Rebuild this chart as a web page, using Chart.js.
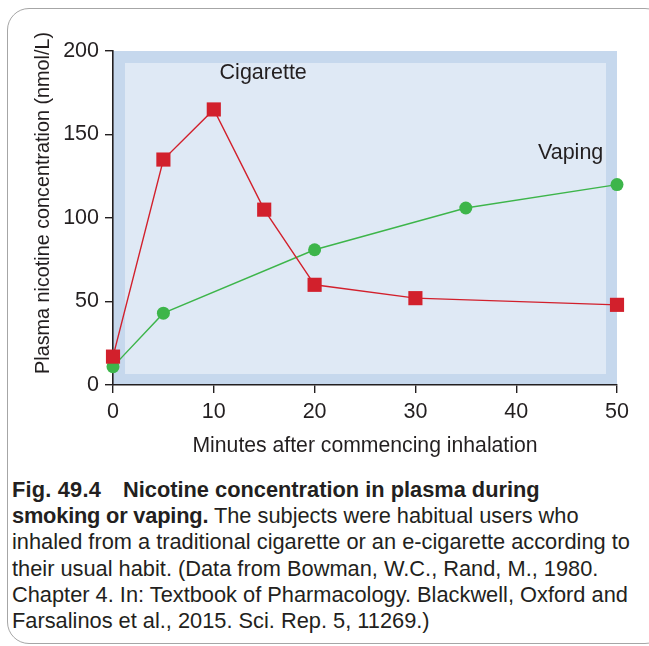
<!DOCTYPE html>
<html>
<head>
<meta charset="utf-8">
<script src="https://cdn.jsdelivr.net/npm/chart.js@4"></script>
<style>
  html, body { margin: 0; padding: 0; background: #fff; }
  body { width: 649px; height: 646px; position: relative; overflow: hidden; font-family: "Liberation Sans", Arial, sans-serif; }
  #frame { position: absolute; left: 7px; top: 8px; width: 660px; height: 636px; border: 1.5px solid #a6a6a6; border-radius: 22px; box-sizing: border-box; }
  #wrap { position: absolute; left: 0; top: 0; width: 649px; height: 470px; }
  #caption { position: absolute; left: 12px; top: 477px; font-size: 21.8px; line-height: 26.2px; color: #231f20; white-space: nowrap; }
  #caption b { font-weight: bold; letter-spacing: -0.2px; }
  #caption .linha1 { letter-spacing: 0; }
  #caption .fig { display: inline-block; width: 111px; letter-spacing: 0.2px; }
</style>
</head>
<body>
<div id="frame"></div>
<div id="wrap"><canvas id="grafico" width="649" height="470"></canvas></div>
<div id="caption">
  <b class="linha1"><span class="fig">Fig. 49.4</span>Nicotine concentration in plasma during</b><br>
  <b>smoking or vaping.</b> The subjects were habitual users who<br>
  inhaled from a traditional cigarette or an e-cigarette according to<br>
  their usual habit. (Data from Bowman, W.C., Rand, M., 1980.<br>
  Chapter 4. In: Textbook of Pharmacology. Blackwell, Oxford and<br>
  Farsalinos et al., 2015. Sci. Rep. 5, 11269.)
</div>
<script>
// minutos e concentração (nmol/L)
const minutosCigarro = [0, 5, 10, 15, 20, 30, 50];
const valoresCigarro = [17, 135, 165, 105, 60, 52, 48];
const minutosVaping = [0, 5, 20, 35, 50];
const valoresVaping = [11, 43, 81, 106, 120];
const ticksX = [0, 10, 20, 30, 40, 50];
const ticksY = [0, 50, 100, 150, 200];

const vermelho = '#d2202c';
const verde = '#3db54a';
const corTexto = '#231f20';
const fonte = '"Liberation Sans", Arial, sans-serif';

// fundo azul com moldura mais escura
const fundoPlugin = {
  id: 'fundo',
  beforeDraw(chart) {
    const a = chart.chartArea;
    const c = chart.ctx;
    c.save();
    c.fillStyle = '#c6d8ed';
    c.fillRect(a.left, a.top, a.right - a.left, a.bottom - a.top);
    c.fillStyle = '#dfe9f5';
    c.fillRect(a.left + 12, a.top + 12, a.right - a.left - 23, a.bottom - a.top - 23);
    c.restore();
  }
};

// rótulos "Cigarette", "Vaping" e título do eixo y
const rotulosPlugin = {
  id: 'rotulos',
  afterDatasetsDraw(chart) {
    const c = chart.ctx;
    const x = chart.scales.x, y = chart.scales.y;
    c.save();
    c.fillStyle = corTexto;
    c.font = '21.5px ' + fonte;
    c.textAlign = 'center';
    c.textBaseline = 'middle';
    c.fillText('Cigarette', x.getPixelForValue(14.9), y.getPixelForValue(187));
    c.fillText('Vaping', x.getPixelForValue(45.4), y.getPixelForValue(139));

    // título do eixo y (um pouco acima do centro, como no original)
    c.translate(44, y.getPixelForValue(109));
    c.rotate(-Math.PI / 2);
    c.font = '19.8px ' + fonte;
    c.fillText('Plasma nicotine concentration (nmol/L)', 0, 0);
    c.restore();
  }
};

const ctx = document.getElementById('grafico').getContext('2d');
const grafico = new Chart(ctx, {
  type: 'line',
  data: {
    datasets: [{
      label: 'Cigarette',
      data: minutosCigarro.map((m, i) => ({ x: m, y: valoresCigarro[i] })),
      borderColor: vermelho,
      backgroundColor: vermelho,
      borderWidth: 1.4,
      pointStyle: 'rect',
      pointRadius: 10,
      pointBorderWidth: 0,
      tension: 0,
      clip: false
    }, {
      label: 'Vaping',
      data: minutosVaping.map((m, i) => ({ x: m, y: valoresVaping[i] })),
      borderColor: verde,
      backgroundColor: verde,
      borderWidth: 1.4,
      pointStyle: 'circle',
      pointRadius: 6.5,
      pointBorderWidth: 0,
      tension: 0,
      clip: false
    }]
  },
  options: {
    responsive: false,
    animation: false,
    layout: { padding: { top: 51, right: 32, left: 0, bottom: 0 } },
    plugins: { legend: { display: false }, tooltip: { enabled: false } },
    scales: {
      x: {
        type: 'linear',
        min: 0, max: 50,
        afterBuildTicks: (s) => { s.ticks = ticksX.map(v => ({ value: v })); },
        afterFit: (s) => { s.height = 85; },
        border: { display: true, color: '#231f20', width: 1.6 },
        grid: { display: true, drawOnChartArea: false, drawTicks: true, tickLength: 8, color: '#231f20', lineWidth: 1.4 },
        ticks: { color: corTexto, font: { size: 21.5, family: fonte }, padding: 6, maxRotation: 0 },
        title: { display: true, text: 'Minutes after commencing inhalation', color: corTexto, font: { size: 21.2, family: fonte }, padding: { top: 0, bottom: 11 } }
      },
      y: {
        min: 0, max: 200,
        afterBuildTicks: (s) => { s.ticks = ticksY.map(v => ({ value: v })); },
        afterFit: (s) => { s.width = 113; },
        border: { display: true, color: '#231f20', width: 1.6 },
        grid: { display: true, drawOnChartArea: false, drawTicks: true, tickLength: 8, color: '#231f20', lineWidth: 1.4 },
        ticks: { color: corTexto, font: { size: 21.5, family: fonte }, padding: 6 },
        title: { display: false }
      }
    }
  },
  plugins: [fundoPlugin, rotulosPlugin]
});
</script>
</body>
</html>
